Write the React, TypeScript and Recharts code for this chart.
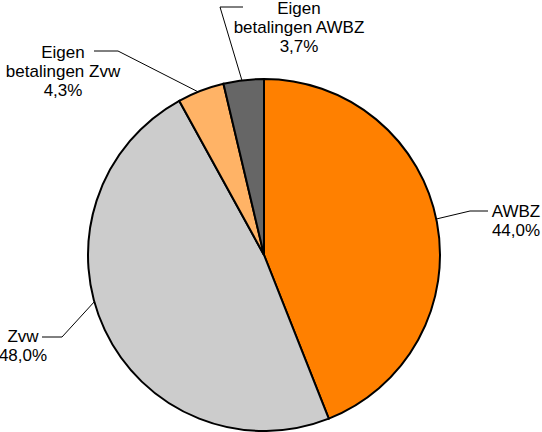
import React from 'react';
import { PieChart, Pie, Cell } from 'recharts';

const categories = ['AWBZ', 'Zvw', 'Eigen betalingen Zvw', 'Eigen betalingen AWBZ'];
const shares = [44.0, 48.0, 4.3, 3.7];
const labelLines = [['AWBZ'], ['Zvw'], ['Eigen', 'betalingen Zvw'], ['Eigen', 'betalingen AWBZ']];

const colors = ['#FF8000', '#CCCCCC', '#FFB366', '#666666'];

// leader layout, relative to pie centre: edge point angle (deg, screen), elbow, end of horizontal, text centre/first line
const leaders = [
    { angle: -11.8, elbow: [206, -44], end: [224, -44], text: [252, -44], anchor: 'middle' },
    { angle: 164.6, elbow: [-202, 82], end: [-222, 82], text: [-241, 81], anchor: 'middle' },
    { angle: -112, elbow: [-146, -204], end: [-170, -204], text: [-201, -203], anchor: 'middle' },
    { angle: -97.2, elbow: [-44, -248], end: [-21, -248], text: [35, -247], anchor: 'middle' },
];

const data = categories.map((name, i) => ({ name, value: shares[i] }));

const fmt = (v: number) => v.toFixed(1).replace('.', ',') + '%';

const LINE_H = 19;

const renderLabel = ({ cx, cy, outerRadius, index }: any) => {
    const l = leaders[index];
    const a = (l.angle * Math.PI) / 180;
    const ex = cx + outerRadius * Math.cos(a);
    const ey = cy + outerRadius * Math.sin(a);
    const lines = [...labelLines[index], fmt(shares[index])];
    const tx = cx + l.text[0];
    const ty = cy + l.text[1];
    return (
        <g>
            <polyline
                points={`${ex},${ey} ${cx + l.elbow[0]},${cy + l.elbow[1]} ${cx + l.end[0]},${cy + l.end[1]}`}
                fill="none"
                stroke="#000"
                strokeWidth={1}
            />
            {lines.map((t, k) => (
                <text
                    key={k}
                    x={tx}
                    y={ty + k * LINE_H}
                    textAnchor={l.anchor as any}
                    dominantBaseline="central"
                    fill="#000"
                    fontFamily="Liberation Sans, Arial, sans-serif"
                    fontSize={17}
                >
                    {t}
                </text>
            ))}
        </g>
    );
};

const App = () => {
    return (
        <div style={{ position: 'absolute', left: 0, top: 0, width: 542, height: 432, background: '#fff' }}>
            <PieChart width={542} height={432} margin={{ top: 0, right: 0, bottom: 0, left: 0 }}>
                <Pie
                    data={data}
                    dataKey="value"
                    cx={264}
                    cy={255}
                    innerRadius={0}
                    outerRadius={176}
                    startAngle={90}
                    endAngle={-270}
                    stroke="#000"
                    strokeWidth={2}
                    labelLine={false}
                    label={renderLabel}
                    isAnimationActive={false}
                >
                    {data.map((d, i) => (
                        <Cell key={`cell-${i}`} fill={colors[i]} />
                    ))}
                </Pie>
            </PieChart>
        </div>
    );
};

export default App;
